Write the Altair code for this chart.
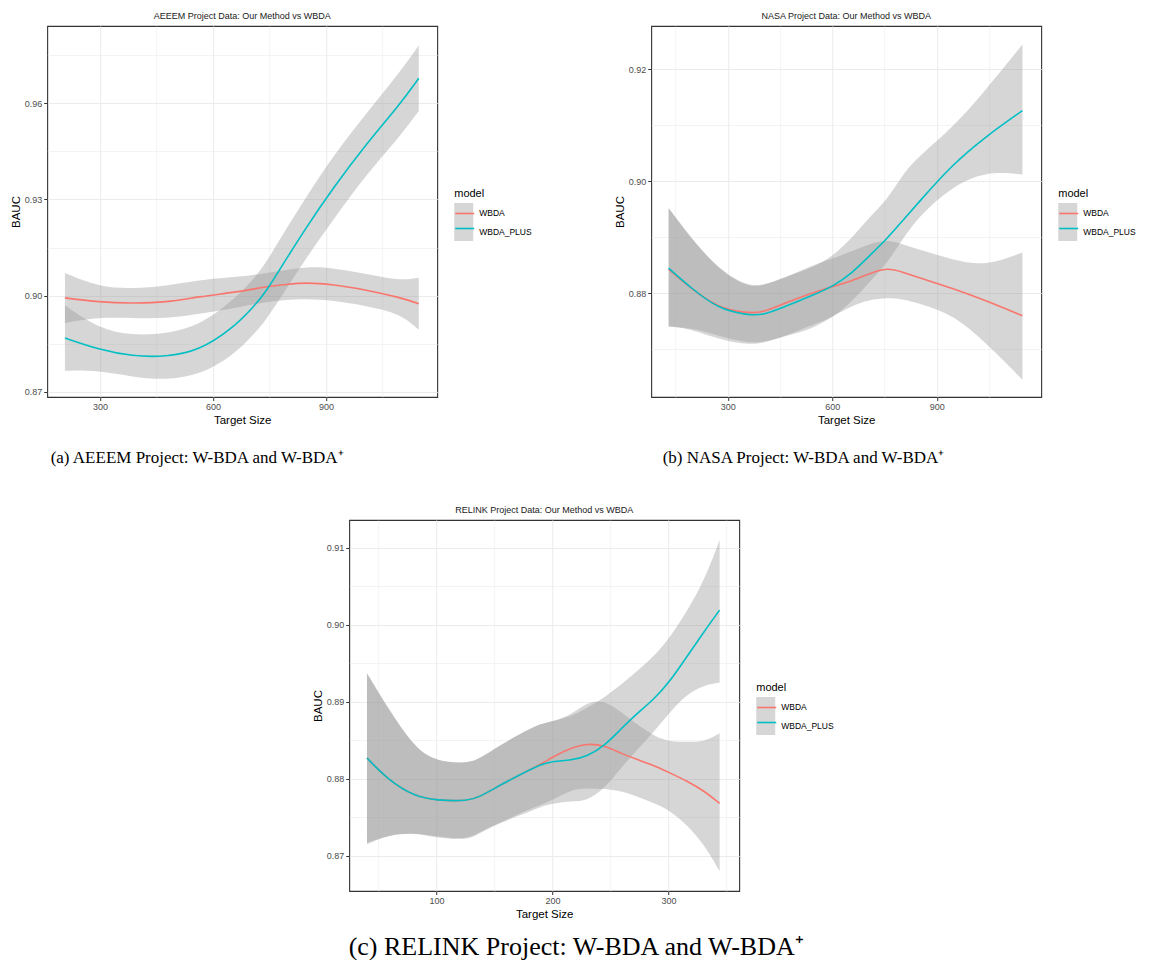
import json
import altair as alt
import pandas as pd

MODELS = ["WBDA", "WBDA_PLUS"]
LINE_COLORS = ["#F8766D", "#00BFC4"]

# ---------------- Panel (a) AEEEM ----------------
a_x = [207, 297, 386, 475, 563, 652, 705, 740, 794, 847, 918, 1006, 1095, 1146]
a_wbda_fit = [0.8993, 0.8980, 0.8976, 0.8979, 0.8997, 0.9010, 0.9020, 0.9028, 0.9035, 0.9041, 0.9035, 0.9018, 0.8995, 0.8975]
a_wbda_lo = [0.8915, 0.8933, 0.8930, 0.8928, 0.8943, 0.8960, 0.8972, 0.8980, 0.8987, 0.8990, 0.8985, 0.8968, 0.8945, 0.8894]
a_wbda_hi = [0.9071, 0.9027, 0.9022, 0.9030, 0.9049, 0.9058, 0.9064, 0.9070, 0.9080, 0.9090, 0.9087, 0.9068, 0.9047, 0.9056]
a_plus_fit = [0.8868, 0.8832, 0.8811, 0.8809, 0.8828, 0.8898, 0.8962, 0.9010, 0.9114, 0.9212, 0.9335, 0.9472, 0.9595, 0.9678]
a_plus_lo = [0.8766, 0.8767, 0.8746, 0.8737, 0.8752, 0.8812, 0.8876, 0.8922, 0.9020, 0.9117, 0.9235, 0.9377, 0.9495, 0.9576]
a_plus_hi = [0.8970, 0.8897, 0.8876, 0.8881, 0.8906, 0.8984, 0.9048, 0.9100, 0.9209, 0.9307, 0.9435, 0.9567, 0.9695, 0.9780]

# ---------------- Panel (b) NASA ----------------
b_x = [130, 197, 274, 351, 399, 466, 542, 601, 657, 705, 758, 801, 849, 945, 1041, 1146]
b_wbda_fit = [0.8843, 0.8807, 0.8774, 0.8765, 0.8765, 0.8783, 0.8801, 0.8812, 0.8822, 0.8835, 0.8846, 0.8838, 0.8828, 0.8809, 0.8787, 0.8760]
b_wbda_lo = [0.8741, 0.8738, 0.8724, 0.8712, 0.8712, 0.8724, 0.8736, 0.8759, 0.8778, 0.8788, 0.8792, 0.8790, 0.8782, 0.8763, 0.8712, 0.8646]
b_wbda_hi = [0.8952, 0.8896, 0.8843, 0.8814, 0.8814, 0.8828, 0.8850, 0.8862, 0.8875, 0.8888, 0.8896, 0.8888, 0.8878, 0.8860, 0.8848, 0.8873]
b_plus_fit = [0.8845, 0.8808, 0.8772, 0.8762, 0.8760, 0.8777, 0.8796, 0.8812, 0.8836, 0.8866, 0.8898, 0.8929, 0.8963, 0.9030, 0.9080, 0.9126]
b_plus_lo = [0.8741, 0.8736, 0.8718, 0.8709, 0.8710, 0.8724, 0.8744, 0.8756, 0.8786, 0.8819, 0.8854, 0.8896, 0.8938, 0.8991, 0.9018, 0.9012]
b_plus_hi = [0.8952, 0.8896, 0.8843, 0.8812, 0.8812, 0.8830, 0.8845, 0.8866, 0.8899, 0.8935, 0.8967, 0.9012, 0.9045, 0.9095, 0.9163, 0.9244]

# ---------------- Panel (c) RELINK ----------------
c_x = [40, 58, 81, 100, 127, 138, 155, 173, 190, 201, 216, 230, 245, 259, 273, 288, 302, 316, 331, 344]
c_wbda_fit = [0.8827, 0.8799, 0.8777, 0.8772, 0.8771, 0.8777, 0.8792, 0.8806, 0.8819, 0.8829, 0.8840, 0.8846, 0.8843, 0.8833, 0.8825, 0.8817, 0.8807, 0.8797, 0.8784, 0.8768]
c_wbda_lo = [0.8717, 0.8727, 0.8730, 0.8725, 0.8721, 0.8732, 0.8743, 0.8756, 0.8766, 0.8773, 0.8786, 0.8788, 0.8787, 0.8784, 0.8777, 0.8768, 0.8758, 0.8740, 0.8714, 0.8680]
c_wbda_hi = [0.8937, 0.8892, 0.8840, 0.8822, 0.8820, 0.8827, 0.8844, 0.8859, 0.8872, 0.8875, 0.8883, 0.8900, 0.8902, 0.8887, 0.8870, 0.8855, 0.8848, 0.8848, 0.8848, 0.8859]
c_plus_fit = [0.8827, 0.8799, 0.8777, 0.8772, 0.8771, 0.8777, 0.8792, 0.8806, 0.8819, 0.8823, 0.8824, 0.8829, 0.8843, 0.8865, 0.8885, 0.8904, 0.8928, 0.8959, 0.8992, 0.9019]
c_plus_lo = [0.8715, 0.8727, 0.8730, 0.8723, 0.8720, 0.8730, 0.8743, 0.8753, 0.8764, 0.8768, 0.8771, 0.8771, 0.8788, 0.8814, 0.8838, 0.8862, 0.8888, 0.8910, 0.8922, 0.8925]
c_plus_hi = [0.8937, 0.8892, 0.8840, 0.8822, 0.8820, 0.8827, 0.8844, 0.8859, 0.8872, 0.8875, 0.8881, 0.8892, 0.8906, 0.8922, 0.8940, 0.8960, 0.8985, 0.9018, 0.9058, 0.9110]

# Axis breaks (major labelled, minor grid only)
a_xmaj, a_xmin = [300, 600, 900], [450, 750, 1050]
a_ymaj, a_ymin = [0.87, 0.90, 0.93, 0.96], [0.885, 0.915, 0.945, 0.975]
b_xmaj, b_xmin = [300, 600, 900], [150, 450, 750, 1050]
b_ymaj, b_ymin = [0.88, 0.90, 0.92], [0.87, 0.89, 0.91]
c_xmaj, c_xmin = [100, 200, 300], [50, 150, 250, 350]
c_ymaj, c_ymin = [0.87, 0.88, 0.89, 0.90, 0.91], [0.875, 0.885, 0.895, 0.905]

TITLES = [
    "AEEEM Project Data: Our Method vs WBDA",
    "NASA Project Data: Our Method vs WBDA",
    "RELINK Project Data: Our Method vs WBDA",
]
CAPTIONS = [
    "(a) AEEEM Project: W-BDA and W-BDA\u207a",
    "(b) NASA Project: W-BDA and W-BDA\u207a",
    "(c) RELINK Project: W-BDA and W-BDA\u207a",
]

SANS = "Liberation Sans"
SERIF = "Liberation Serif"
W, H = 390, 371
INTERP = "basis"


def make_df(x, series):
    rows = []
    for model, (fit, lo, hi) in zip(MODELS, series):
        for xi, f, l, h in zip(x, fit, lo, hi):
            rows.append({"x": xi, "fit": f, "lo": l, "hi": h, "model": model, "band": model})
    return pd.DataFrame(rows)


def major_test(majors):
    return "indexof(" + json.dumps(majors) + ", datum.value) >= 0"


def panel(df, title, xdom, ydom, xmaj, xmin, ymaj, ymin):
    xt = major_test(xmaj)
    yt = major_test(ymaj)
    x_axis = alt.Axis(
        values=sorted(xmaj + xmin),
        title="Target Size",
        labelExpr=f"{xt} ? format(datum.value, 'd') : ''",
        tickOpacity={"condition": {"test": xt, "value": 1}, "value": 0},
        gridWidth={"condition": {"test": xt, "value": 1}, "value": 0.6},
    )
    y_axis = alt.Axis(
        values=sorted(ymaj + ymin),
        title="BAUC",
        labelExpr=f"{yt} ? format(datum.value, '.2f') : ''",
        tickOpacity={"condition": {"test": yt, "value": 1}, "value": 0},
        gridWidth={"condition": {"test": yt, "value": 1}, "value": 0.6},
    )
    xs = alt.Scale(domain=xdom, nice=False, zero=False)
    ys = alt.Scale(domain=ydom, nice=False, zero=False)
    base = alt.Chart(df)
    band = base.mark_area(opacity=0.4, interpolate=INTERP).encode(
        x=alt.X("x:Q", scale=xs, axis=x_axis),
        y=alt.Y("lo:Q", scale=ys, axis=y_axis),
        y2="hi:Q",
        fill=alt.Fill(
            "band:N",
            scale=alt.Scale(range=["#999999", "#999999"]),
            legend=alt.Legend(
                title="model", orient="none", legendX=407, legendY=162,
                symbolType="square", symbolSize=361, symbolStrokeWidth=0,
                symbolOpacity=0.4, rowPadding=0, labelOffset=6,
                labelFontSize=8.5, labelFont=SANS, labelColor="black",
                titleFontSize=11, titleFont=SANS, titleFontWeight="normal",
                titleColor="black", titlePadding=4,
            ),
        ),
    )
    line = base.mark_line(strokeWidth=1.6, interpolate=INTERP).encode(
        x=alt.X("x:Q", scale=xs, axis=x_axis),
        y=alt.Y("fit:Q", scale=ys, axis=y_axis),
        stroke=alt.Stroke(
            "model:N",
            scale=alt.Scale(range=LINE_COLORS),
            legend=alt.Legend(
                title=" ", orient="none", legendX=407, legendY=162,
                symbolType="stroke", symbolSize=361, symbolStrokeWidth=1.6,
                rowPadding=0, labelOffset=6, labelExpr="''",
                labelFontSize=8.5, labelFont=SANS,
                titleFontSize=11, titleFont=SANS, titleFontWeight="normal",
                titlePadding=4,
            ),
        ),
    )
    return alt.layer(band, line).properties(
        width=W, height=H,
        title=alt.TitleParams(title, fontSize=9, font=SANS, fontWeight="normal",
                              color="#1a1a1a", anchor="middle", frame="group", offset=5),
    ).resolve_legend(fill="independent", stroke="independent")


def captioned(ch, caption, size, dx, offset):
    return alt.vconcat(
        ch,
        title=alt.TitleParams(caption, orient="bottom", anchor="start", font=SERIF,
                              fontSize=size, fontWeight="normal", color="black",
                              dx=dx, offset=offset),
    ).resolve_scale(fill="independent", stroke="independent").resolve_legend(
        fill="independent", stroke="independent")


df_a = make_df(a_x, [(a_wbda_fit, a_wbda_lo, a_wbda_hi), (a_plus_fit, a_plus_lo, a_plus_hi)])
df_b = make_df(b_x, [(b_wbda_fit, b_wbda_lo, b_wbda_hi), (b_plus_fit, b_plus_lo, b_plus_hi)])
df_c = make_df(c_x, [(c_wbda_fit, c_wbda_lo, c_wbda_hi), (c_plus_fit, c_plus_lo, c_plus_hi)])

pa = panel(df_a, TITLES[0], [160, 1195], [0.8684, 0.9841], a_xmaj, a_xmin, a_ymaj, a_ymin)
pb = panel(df_b, TITLES[1], [80, 1200], [0.8615, 0.9277], b_xmaj, b_xmin, b_ymaj, b_ymin)
pc = panel(df_c, TITLES[2], [24.7, 360.9], [0.86543, 0.9136], c_xmaj, c_xmin, c_ymaj, c_ymin)

top = alt.hconcat(
    captioned(pa, CAPTIONS[0], 17, 41, 23),
    captioned(pb, CAPTIONS[1], 17, 49, 23),
    spacing=80,
).resolve_scale(fill="independent", stroke="independent").resolve_legend(
    fill="independent", stroke="independent")

bottom = captioned(pc, CAPTIONS[2], 26, 37, 13)

chart = alt.vconcat(top, bottom, spacing=39, center=True).resolve_scale(
    fill="independent", stroke="independent").resolve_legend(
    fill="independent", stroke="independent").properties(
    padding={"left": 1, "top": 3, "right": 0, "bottom": 0}
).configure_view(
    stroke="#333333", strokeWidth=1.1
).configure_axis(
    domain=False, grid=True, gridColor="#EBEBEB", tickColor="#333333", tickSize=3.5,
    tickWidth=1, labelColor="#4D4D4D", labelFontSize=9, labelFont=SANS,
    titleFont=SANS, titleFontSize=11.5, titleFontWeight="normal", titleColor="black",
    labelPadding=2, titlePadding=3,
)

chart.save("out.html", embed_options={"renderer": "svg", "actions": False})
